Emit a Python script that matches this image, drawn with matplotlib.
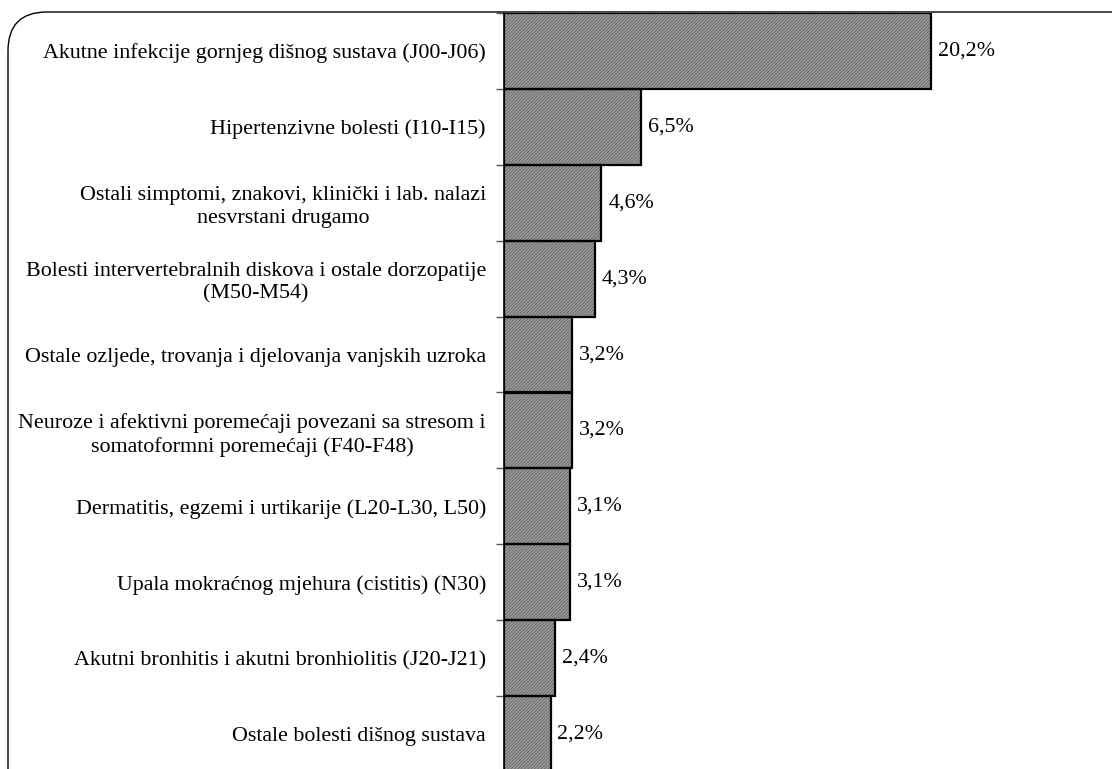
import matplotlib.pyplot as plt
from matplotlib.patches import FancyBboxPatch
import numpy as np

plt.rcParams['font.family'] = ['Liberation Serif', 'DejaVu Serif']
plt.rcParams['hatch.linewidth'] = 0.5

categories = [
    "Akutne infekcije gornjeg dišnog sustava (J00-J06)",
    "Hipertenzivne bolesti (I10-I15)",
    "Ostali simptomi, znakovi, klinički i lab. nalazi\nnesvrstani drugamo",
    "Bolesti intervertebralnih diskova i ostale dorzopatije\n(M50-M54)",
    "Ostale ozljede, trovanja i djelovanja vanjskih uzroka",
    "Neuroze i afektivni poremećaji povezani sa stresom i\nsomatoformni poremećaji (F40-F48)",
    "Dermatitis, egzemi i urtikarije (L20-L30, L50)",
    "Upala mokraćnog mjehura (cistitis) (N30)",
    "Akutni bronhitis i akutni bronhiolitis (J20-J21)",
    "Ostale bolesti dišnog sustava",
]
values = [20.2, 6.5, 4.6, 4.3, 3.2, 3.2, 3.1, 3.1, 2.4, 2.2]
value_labels = ["20,2%", "6,5%", "4,6%", "4,3%", "3,2%", "3,2%", "3,1%", "3,1%", "2,4%", "2,2%"]

W, H = 1112, 769
fs = 15.8
fig = plt.figure(figsize=(W / 100, H / 100), dpi=100)

# rounded frame, partly cut off at right and bottom
frame = FancyBboxPatch((8 / W, -60 / H), 1.2, (H - 12 + 60) / H,
                       boxstyle="round,pad=0,rounding_size=0.035",
                       transform=fig.transFigure, fill=False, edgecolor='black',
                       linewidth=1.0, mutation_aspect=W / H)
fig.patches.append(frame)

ax = fig.add_axes([504 / W, -3 / H, (1100 - 504) / W, 759 / H])
y = np.arange(len(values))
# hatched fill, then black outline
ax.barh(y, values, height=1.0, color='#9a9a9a', edgecolor='#5e5e5e', linewidth=0,
        hatch='//////////')
ax.barh(y, values, height=1.0, fill=False, edgecolor='black', linewidth=1.6)
ax.set_ylim(len(values) - 0.5, -0.5)
ax.set_xlim(0, (1100 - 504) / 21.14)

for yi, v, lab in zip(y, values, value_labels):
    ax.text(v + 0.33, yi, lab, va='center', ha='left', fontsize=fs)

ax.set_yticks(y)
ax.set_yticklabels(categories, fontsize=fs, multialignment='center', linespacing=1.25)
ax.tick_params(axis='y', which='major', length=0, pad=13)
ax.set_yticks(np.arange(len(values) + 1) - 0.5, minor=True)
ax.tick_params(axis='y', which='minor', length=6, width=1, color='#555555')
ax.set_xticks([])
for s in ['top', 'right', 'bottom']:
    ax.spines[s].set_visible(False)
ax.spines['left'].set_linewidth(1.2)
ax.patch.set_alpha(0)

fig.savefig('out.png', dpi=100)
